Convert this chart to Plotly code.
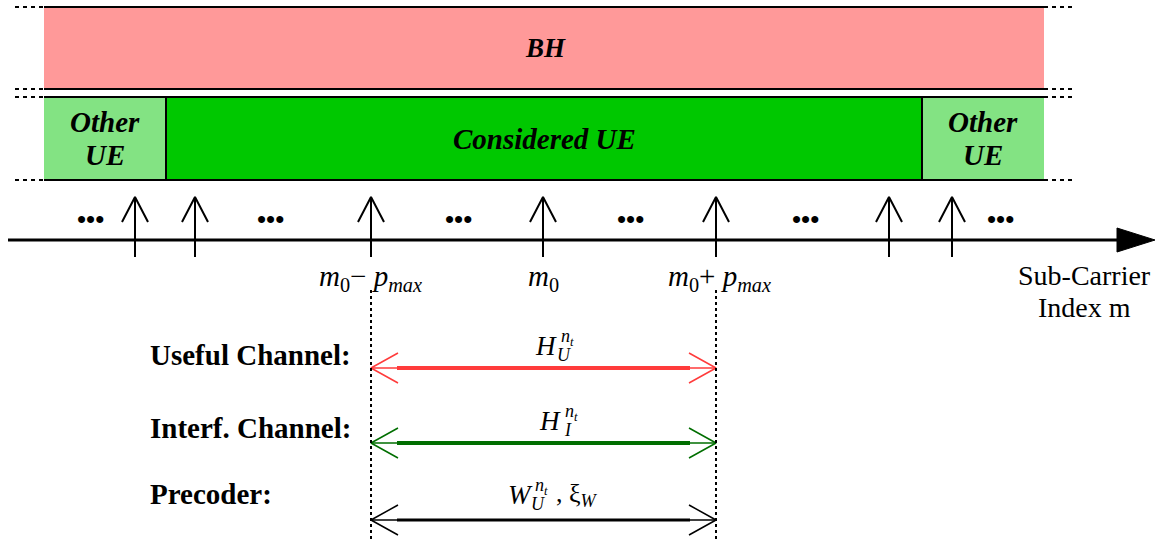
import plotly.graph_objects as go

W, H = 1158, 541
SERIF = "Liberation Serif, Times New Roman, serif"

# ---- diagram data (pixel frame of the figure) ----
bh_label = "BH"
bh_span = [44, 1044]
bh_rows = [7, 89]
ue_labels = ["Other<br>UE", "Considered UE", "Other<br>UE"]
ue_edges = [44, 166, 922, 1044]
ue_rows = [97, 180]
ue_colors = ["#83e383", "#00c800", "#83e383"]
carrier_x = [135, 195, 371, 543, 716, 889, 952]
dots_x = [90, 270, 458, 630, 805, 1000]
axis_y = 240
marks_x = [370, 543, 719]
marks_text = ["<i>m</i><sub>0</sub>\u2212 <i>p</i><sub><i>max</i></sub>",
              "<i>m</i><sub>0</sub>",
              "<i>m</i><sub>0</sub>+ <i>p</i><sub><i>max</i></sub>"]
axis_title = ["Sub-Carrier", "Index m"]
chan_names = ["Useful Channel:", "Interf. Channel:", "Precoder:"]
chan_name_y = [355, 428, 494]
chan_y = [368, 443, 520]
chan_colors = ["#ff3b3b", "#006e00", "#000000"]
chan_sym = ["H", "H", "W"]
chan_sub = ["U", "I", "U"]
chan_sym_x = [546, 550, 520]

fig = go.Figure()
shapes = []
ann = []

# BH band
shapes.append(dict(type="rect", x0=bh_span[0], x1=bh_span[1], y0=bh_rows[0], y1=bh_rows[1],
                   fillcolor="#ff9999", line=dict(width=0), layer="below"))
for yy in bh_rows + ue_rows:
    shapes.append(dict(type="line", x0=bh_span[0], x1=bh_span[1], y0=yy, y1=yy,
                       line=dict(color="black", width=2)))
    shapes.append(dict(type="line", x0=15, x1=bh_span[0], y0=yy, y1=yy,
                       line=dict(color="black", width=2, dash="4px,4px")))
    shapes.append(dict(type="line", x0=bh_span[1], x1=1075, y0=yy, y1=yy,
                       line=dict(color="black", width=2, dash="4px,4px")))
ann.append(dict(x=sum(bh_span) / 2 + 1, y=sum(bh_rows) / 2, text="<b><i>" + bh_label + "</i></b>",
                showarrow=False, font=dict(family=SERIF, size=27, color="black")))

# UE blocks
for i, lab in enumerate(ue_labels):
    shapes.append(dict(type="rect", x0=ue_edges[i], x1=ue_edges[i + 1], y0=ue_rows[0], y1=ue_rows[1],
                       fillcolor=ue_colors[i], line=dict(width=0), layer="below"))
    lines = lab.split("<br>")
    cy = sum(ue_rows) / 2
    n = len(lines)
    for k, ln in enumerate(lines):
        ann.append(dict(x=(ue_edges[i] + ue_edges[i + 1]) / 2, y=cy + (k - (n - 1) / 2) * 33,
                        text="<b><i>" + ln + "</i></b>", showarrow=False,
                        font=dict(family=SERIF, size=29, color="black")))
for e in ue_edges[1:-1]:
    shapes.append(dict(type="line", x0=e, x1=e, y0=ue_rows[0], y1=ue_rows[1],
                       line=dict(color="black", width=2)))

# frequency axis
shapes.append(dict(type="line", x0=8, x1=1122, y0=axis_y, y1=axis_y, line=dict(color="black", width=3)))
shapes.append(dict(type="path", path=f"M 1117 {axis_y-12} L 1155 {axis_y} L 1117 {axis_y+12} Z",
                   fillcolor="black", line=dict(color="black", width=1)))

# sub-carrier arrows
ax, ay = [], []
for x in carrier_x:
    ax += [x, x, None, x - 13, x, x + 13, None]
    ay += [257, 197, None, 222, 197, 222, None]
fig.add_trace(go.Scatter(x=ax, y=ay, mode="lines", line=dict(color="black", width=2),
                         hoverinfo="skip", showlegend=False))

# dots
for x in dots_x:
    ann.append(dict(x=x, y=219, text="<b>\u2022\u2022\u2022</b>", showarrow=False,
                    font=dict(family=SERIF, size=26, color="black")))

# index labels
for x, t in zip(marks_x, marks_text):
    ann.append(dict(x=x, y=278, text=t, showarrow=False,
                    font=dict(family=SERIF, size=29, color="black")))
for k, t in enumerate(axis_title):
    ann.append(dict(x=1084, y=275 + 32 * k, text=t, showarrow=False,
                    font=dict(family=SERIF, size=28, color="black")))

# dotted guides
for x in [carrier_x[2], carrier_x[4]]:
    shapes.append(dict(type="line", x0=x, x1=x, y0=290, y1=541,
                       line=dict(color="black", width=2, dash="dot")))

# channel rows
x0, x1 = carrier_x[2], carrier_x[4]
for i, (name, y, c) in enumerate(zip(chan_names, chan_y, chan_colors)):
    ann.append(dict(x=148, y=chan_name_y[i], xanchor="left", text="<b>" + name + "</b>", showarrow=False,
                    font=dict(family=SERIF, size=29, color="black")))
    thick = 4 if i < 2 else 3
    fig.add_trace(go.Scatter(x=[x0, x1], y=[y, y], mode="lines", line=dict(color=c, width=1.5),
                             hoverinfo="skip", showlegend=False))
    fig.add_trace(go.Scatter(x=[x0 + 26, x1 - 26], y=[y, y], mode="lines", line=dict(color=c, width=thick),
                             hoverinfo="skip", showlegend=False))
    fig.add_trace(go.Scatter(x=[x0 + 27, x0, x0 + 27, None, x1 - 27, x1, x1 - 27],
                             y=[y - 15, y, y + 15, None, y - 15, y, y + 15], mode="lines",
                             line=dict(color=c, width=1.5), hoverinfo="skip", showlegend=False))
    # math label
    base = y - 22 if i < 2 else y - 25
    hx = chan_sym_x[i]
    ann.append(dict(x=hx, y=base, text="<i>" + chan_sym[i] + "</i>", showarrow=False,
                    font=dict(family=SERIF, size=27, color="black")))
    ann.append(dict(x=hx + 21, y=base - 9, text="<i>n<sub>t</sub></i>", showarrow=False,
                    font=dict(family=SERIF, size=18, color="black")))
    ann.append(dict(x=hx + 18, y=base + 9, text="<i>" + chan_sub[i] + "</i>", showarrow=False,
                    font=dict(family=SERIF, size=18, color="black")))
    if i == 2:
        ann.append(dict(x=hx + 57, y=base, text=", \u03be<sub><i>W</i></sub>", showarrow=False,
                        font=dict(family=SERIF, size=26, color="black")))

fig.update_layout(width=W, height=H, margin=dict(l=0, r=0, t=0, b=0),
                  paper_bgcolor="white", plot_bgcolor="white",
                  xaxis=dict(range=[0, W], visible=False, fixedrange=True),
                  yaxis=dict(range=[H, 0], visible=False, fixedrange=True),
                  shapes=shapes, annotations=ann, showlegend=False)
fig.write_html("out.html", config={"displayModeBar": False},
               post_script="document.body.style.margin='0px';document.body.style.overflow='hidden';")
